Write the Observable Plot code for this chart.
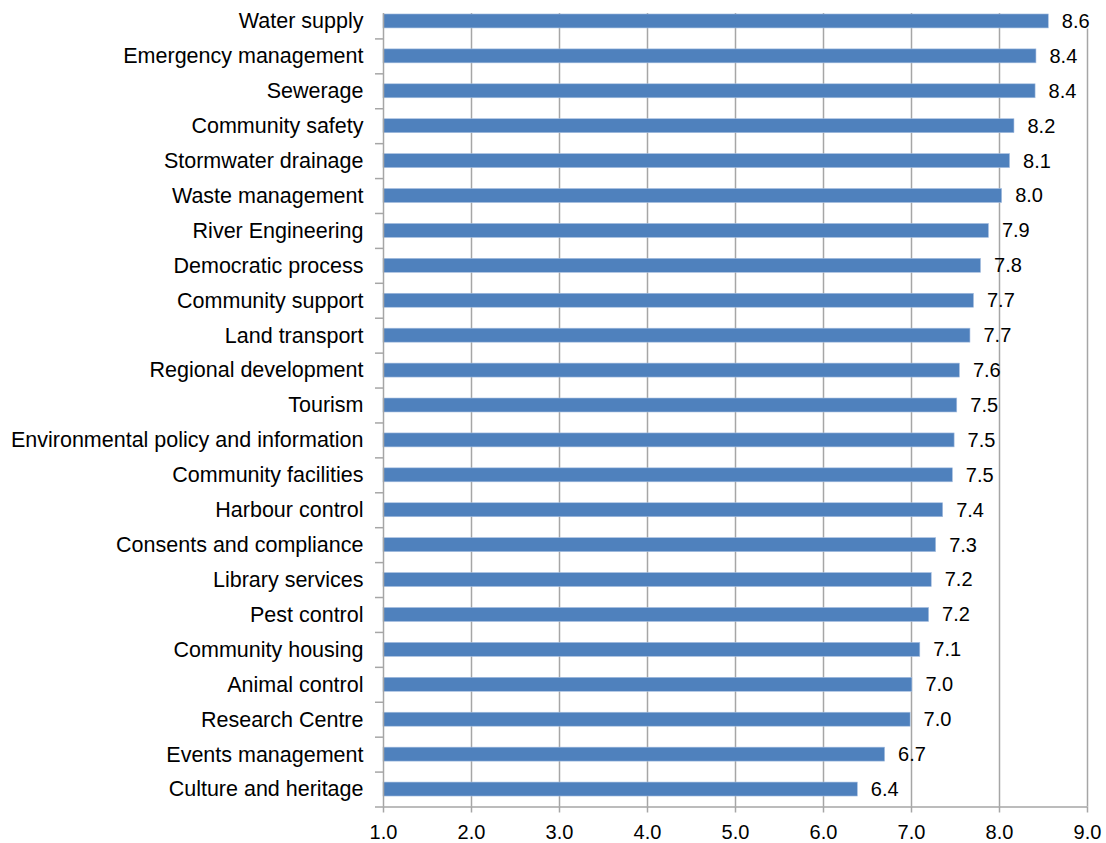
<!DOCTYPE html>
<html>
<head>
<meta charset="utf-8">
<script src="https://cdn.jsdelivr.net/npm/d3@7"></script>
<script src="https://cdn.jsdelivr.net/npm/@observablehq/plot@0.6"></script>
<style>
  html, body { margin: 0; padding: 0; background: #fff; }
  #chart { width: 1106px; height: 843px; }
</style>
</head>
<body>
<div id="chart"></div>
<script>
const categories = [
  "Water supply", "Emergency management", "Sewerage", "Community safety",
  "Stormwater drainage", "Waste management", "River Engineering", "Democratic process",
  "Community support", "Land transport", "Regional development", "Tourism",
  "Environmental policy and information", "Community facilities", "Harbour control",
  "Consents and compliance", "Library services", "Pest control", "Community housing",
  "Animal control", "Research Centre", "Events management", "Culture and heritage"
];
const values = [
  8.56, 8.42, 8.41, 8.17, 8.12, 8.03, 7.88, 7.79,
  7.71, 7.67, 7.55, 7.52, 7.49, 7.47, 7.36,
  7.28, 7.23, 7.20, 7.10, 7.01, 6.99, 6.70, 6.39
];
const valueLabels = [
  "8.6", "8.4", "8.4", "8.2", "8.1", "8.0", "7.9", "7.8",
  "7.7", "7.7", "7.6", "7.5", "7.5", "7.5", "7.4",
  "7.3", "7.2", "7.2", "7.1", "7.0", "7.0", "6.7", "6.4"
];
const xTicks = [1, 2, 3, 4, 5, 6, 7, 8, 9];

const data = categories.map((name, i) => ({name, value: values[i], label: valueLabels[i]}));

const W = 1106, H = 843;
const mTop = 3.5, mBottom = 36.5, mLeft = 383, mRight = 19;
const step = (H - mTop - mBottom) / categories.length;
const grey = "#a6a6a6";

const chart = Plot.plot({
  width: W,
  height: H,
  marginTop: mTop,
  marginBottom: mBottom,
  marginLeft: mLeft,
  marginRight: mRight,
  style: {fontFamily: "'Liberation Sans', Arial, sans-serif", background: "#fff", color: "#000"},
  x: {domain: [1, 9], axis: null, label: null},
  y: {domain: categories, paddingInner: 0.6, paddingOuter: 0.3, round: false, axis: null, label: null},
  marks: [
    Plot.ruleX(xTicks.slice(1, -1), {stroke: grey, strokeWidth: 1.5, insetTop: 9.5}),
    Plot.ruleX(xTicks.slice(-1), {stroke: grey, strokeWidth: 1.5, insetTop: 25}),
    Plot.barX(data, {x1: 1, x2: "value", y: "name", fill: "#4f81bd", stroke: "#a7bfe0", strokeWidth: 0.6}),
    Plot.ruleX([1], {stroke: grey, strokeWidth: 1.5, insetTop: 9.5}),
    Plot.ruleY(categories, {y: d => d, x1: 1 - 8 / 88, x2: 1, dy: step / 2, stroke: grey, strokeWidth: 1.5}),
    Plot.ruleY(categories.slice(-1), {y: d => d, x1: 1, x2: 9, dy: step / 2, stroke: grey, strokeWidth: 1.5}),
    Plot.axisX({ticks: xTicks, tickFormat: d => d.toFixed(1), tickSize: 6, tickPadding: 12, stroke: grey, strokeWidth: 1.5, fill: "#000", fontSize: 20, label: null}),
    Plot.axisY({tickSize: 0, tickPadding: 20, fontSize: 21.5, fill: "#000", label: null}),
    Plot.text(data, {x: "value", y: "name", text: "label", dx: 13, textAnchor: "start", fontSize: 20, fill: "#000"})
  ]
});
document.getElementById("chart").appendChild(chart);
</script>
</body>
</html>
